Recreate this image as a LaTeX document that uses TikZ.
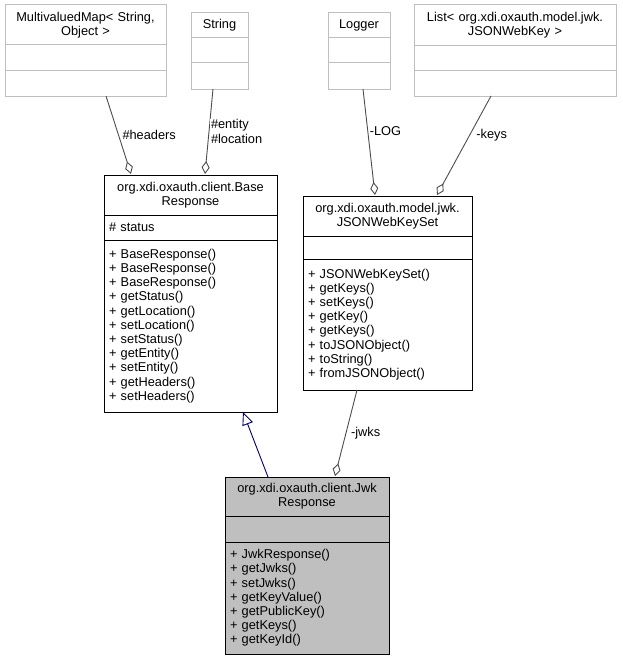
\documentclass[tikz,border=0pt]{standalone}
\usepackage{fontspec}
\setmainfont{Liberation Sans}
\usetikzlibrary{arrows.meta,calc}
\begin{document}
\begin{tikzpicture}[x=1pt,y=-1pt,
  every node/.style={font=\fontsize{12.8}{14.2}\selectfont, inner sep=0pt, outer sep=0pt},
  cmp/.style={draw, line width=1pt, anchor=north, minimum width=#1, text width=#1-10pt},
  gcmp/.style={cmp=#1, draw=black!25},
  ttl/.style={align=center},
  lst/.style={align=left},
  agg/.style={draw=black!70, line width=0.9pt, -{Diamond[open,width=8,length=13]}},
  inh/.style={draw=blue!45!black, line width=0.9pt, -{Triangle[open,width=11,length=13]}},
  lbl/.style={fill=white, inner sep=1pt}]
\useasboundingbox (0,0) rectangle (622,661);
% MultivaluedMap
\node[gcmp=161, ttl, minimum height=40] (mmt) at (85.5,5) {MultivaluedMap< String,\\Object >};
\node[gcmp=161, minimum height=26] (mma) at (mmt.south) {};
\node[gcmp=161, minimum height=25] (mmm) at (mma.south) {};
% String
\node[gcmp=57, ttl, minimum height=25] (stt) at (219.5,13) {String};
\node[gcmp=57, minimum height=25] (sta) at (stt.south) {};
\node[gcmp=57, minimum height=26] (stm) at (sta.south) {};
% Logger
\node[gcmp=62, ttl, minimum height=25] (lgt) at (359,13) {Logger};
\node[gcmp=62, minimum height=25] (lga) at (lgt.south) {};
\node[gcmp=62, minimum height=26] (lgm) at (lga.south) {};
% List
\node[gcmp=202, ttl, minimum height=41] (lit) at (515,5) {List< org.xdi.oxauth.model.jwk.\\JSONWebKey >};
\node[gcmp=202, minimum height=25] (lia) at (lit.south) {};
\node[gcmp=202, minimum height=25] (lim) at (lia.south) {};
% BaseResponse
\node[cmp=173, ttl, minimum height=40] (brt) at (190.5,175) {org.xdi.oxauth.client.Base\\Response};
\node[cmp=173, lst, minimum height=25] (bra) at (brt.south) {\# status};
\node[cmp=173, lst, minimum height=172] (brm) at (bra.south) {+ BaseResponse()\\+ BaseResponse()\\+ BaseResponse()\\+ getStatus()\\+ getLocation()\\+ setLocation()\\+ setStatus()\\+ getEntity()\\+ setEntity()\\+ getHeaders()\\+ setHeaders()};
% JSONWebKeySet
\node[cmp=169, ttl, minimum height=40] (jst) at (387.5,196) {org.xdi.oxauth.model.jwk.\\JSONWebKeySet};
\node[cmp=169, minimum height=23] (jsa) at (jst.south) {};
\node[cmp=169, lst, minimum height=131] (jsm) at (jsa.south) {+ JSONWebKeySet()\\+ getKeys()\\+ setKeys()\\+ getKey()\\+ getKeys()\\+ toJSONObject()\\+ toString()\\+ fromJSONObject()};
% JwkResponse
\node[cmp=164, fill=black!25, ttl, minimum height=39] (jwt) at (307,477) {org.xdi.oxauth.client.Jwk\\Response};
\node[cmp=164, fill=black!25, minimum height=26] (jwa) at (jwt.south) {};
\node[cmp=164, fill=black!25, lst, minimum height=112] (jwm) at (jwa.south) {+ JwkResponse()\\+ getJwks()\\+ setJwks()\\+ getKeyValue()\\+ getPublicKey()\\+ getKeys()\\+ getKeyId()};
% edges
\draw[agg] ($(mmm.south west)+(101,0)$) -- ($(brt.north west)+(27,-1)$) node[pos=0.5,lbl,right=3pt] (l1) {\#headers};
\draw[agg] ($(stm.south west)+(22,0)$) -- ($(brt.north west)+(101,-1)$) node[pos=0.5,lbl,right=1pt,align=left] (l2) {\#entity\\\#location};
\draw[agg] ($(lgm.south west)+(35,0)$) -- ($(jst.north west)+(72,-1)$) node[pos=0.4,lbl,right=1pt] (l3) {-LOG};
\draw[agg] ($(lim.south west)+(77,0)$) -- ($(jst.north west)+(134,-1)$) node[pos=0.4,lbl,right=6pt] (l4) {-keys};
\draw[agg] ($(jsm.south west)+(54,0)$) -- ($(jwt.north west)+(110,-1)$) node[pos=0.5,lbl,right=4pt] (l5) {-jwks};
\draw[inh] ($(jwt.north west)+(43,0)$) -- ($(brm.south west)+(139,0)$);
\end{tikzpicture}
\end{document}
